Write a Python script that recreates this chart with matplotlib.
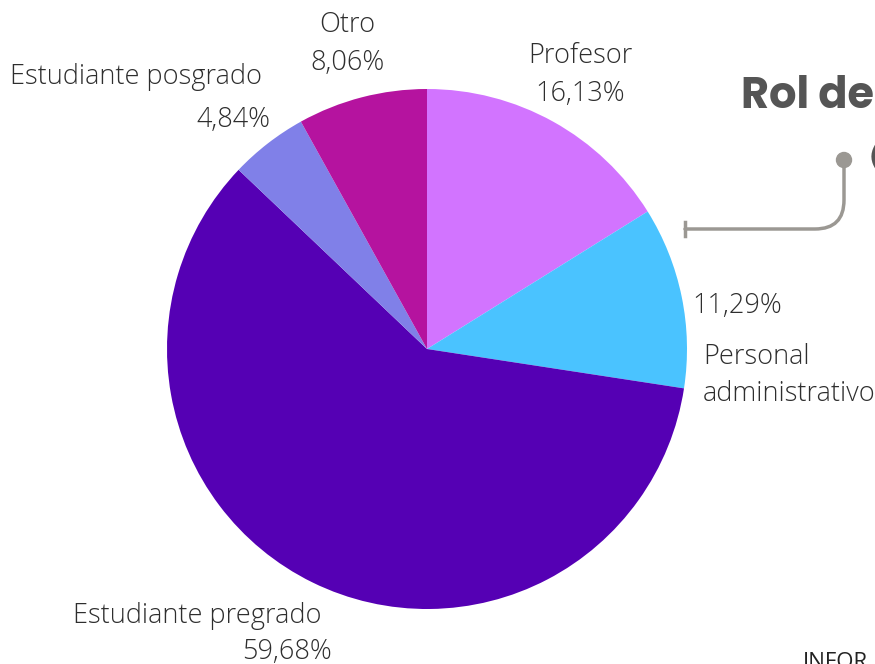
import matplotlib
matplotlib.use("Agg")
import matplotlib.pyplot as plt
from matplotlib.path import Path
import matplotlib.patches as mpatches

categories = ["Profesor", "Personal administrativo", "Estudiante pregrado",
              "Estudiante posgrado", "Otro"]
values = [16.13, 11.29, 59.68, 4.84, 8.06]
pct_labels = ["16,13%", "11,29%", "59,68%", "4,84%", "8,06%"]
colors = ["#D274FF", "#4AC3FF", "#5500B4", "#8080E8", "#B5139F"]

W, H = 875, 664
fig = plt.figure(figsize=(W / 100, H / 100), dpi=100)
fig.patch.set_facecolor("white")

cx, cy, r = 427, 349, 260
ax = fig.add_axes([(cx - r) / W, (H - cy - r) / H, 2 * r / W, 2 * r / H])
ax.pie(values, colors=colors, startangle=90, counterclock=False, radius=1,
       wedgeprops=dict(linewidth=0))
ax.set_xlim(-1, 1)
ax.set_ylim(-1, 1)
ax.set_aspect("equal")
ax.axis("off")

font = dict(family=["Open Sans", "DejaVu Sans"], weight="light", color="#2E2E2E", fontsize=19.5)


def fx(px):
    return px / W


def fy(py):
    return 1 - py / H


def lab(x, y, s, ha="center"):
    fig.text(fx(x), fy(y + 2), s, ha=ha, va="center", **font)


# Profesor
lab(580, 54, categories[0])
lab(580, 92, pct_labels[0])
# Personal administrativo
lab(692, 304, pct_labels[1], ha="left")
lab(703, 355, "Personal", ha="left")
lab(703, 392, "administrativo", ha="left")
# Estudiante pregrado
lab(197, 614, "Estudiante pregrado")
lab(287, 650, pct_labels[2])
# Estudiante posgrado
lab(136, 75, "Estudiante posgrado")
lab(233, 118, pct_labels[3])
# Otro
lab(347, 23, categories[4])
lab(347, 61, pct_labels[4])

# Title (clipped at the right edge, as in the reference)
fig.text(fx(741), fy(97), "Rol de", ha="left", va="center", fontsize=31,
         fontweight="bold", color="#555555", family=["Poppins", "Lato", "DejaVu Sans"])
fig.text(fx(869), fy(158), "(", ha="left", va="center", fontsize=20,
         color="#555555", fontweight="bold")
fig.text(fx(803), fy(652), "INFOR", ha="left", va="top", fontsize=16,
         color="#222222", family=["Open Sans", "DejaVu Sans"])

# Connector
gray = "#9B9893"
verts = [(fx(685), fy(229)), (fx(815), fy(229)), (fx(844), fy(229)), (fx(844), fy(200)),
         (fx(844), fy(160))]
codes = [Path.MOVETO, Path.LINETO, Path.CURVE3, Path.CURVE3, Path.LINETO]
path = Path(verts, codes)
fig.patches.append(mpatches.PathPatch(path, transform=fig.transFigure, fill=False,
                                      edgecolor=gray, linewidth=2.5, capstyle="round"))
fig.lines.append(plt.Line2D([fx(685), fx(685)], [fy(222), fy(236)], transform=fig.transFigure,
                            color=gray, linewidth=2.5))
fig.patches.append(mpatches.Ellipse((fx(844), fy(160)), 15 / W, 15 / H,
                                    transform=fig.transFigure, color=gray))

fig.savefig("out.png", dpi=100, facecolor="white")
